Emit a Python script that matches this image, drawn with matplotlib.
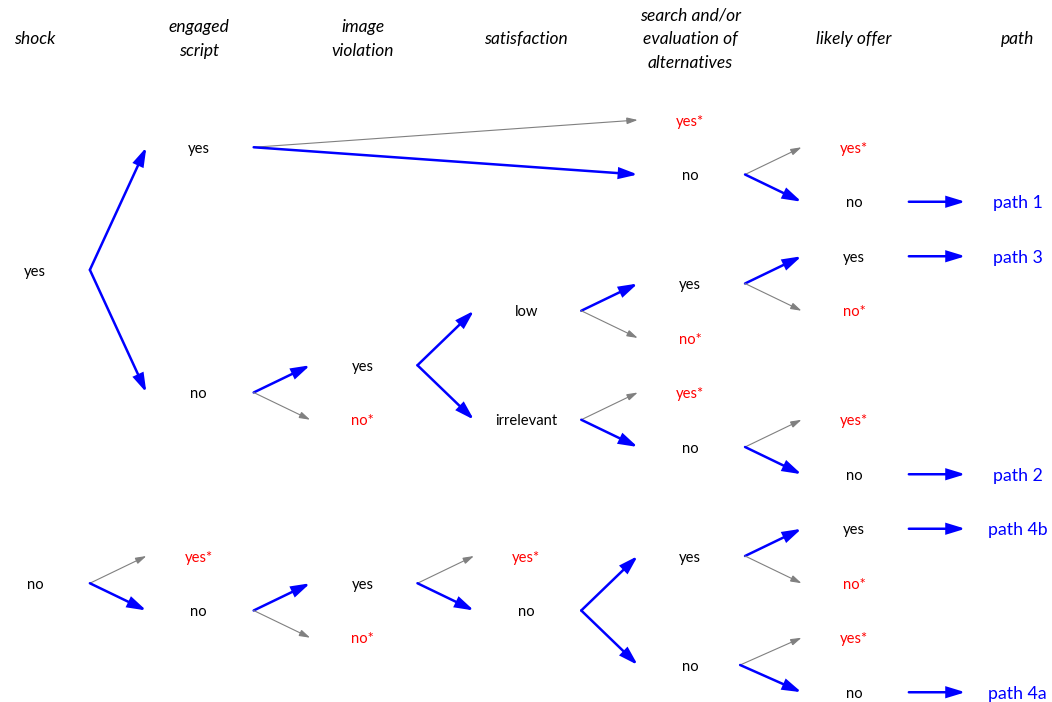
import matplotlib.pyplot as plt
from matplotlib.patches import FancyArrowPatch

# column headers (column index, text)
header_cols = [0, 1, 2, 3, 4, 5, 6]
header_texts = ["shock", "engaged\nscript", "image\nviolation", "satisfaction",
                "search and/or\nevaluation of\nalternatives", "likely offer", "path"]

# tree nodes: id -> (column, row, label, rejected?)
node_ids = ["A", "B",
            "C", "D", "E", "F",
            "G", "H", "I", "J",
            "K", "L", "M", "N",
            "O", "P", "Q", "R", "S", "T", "U", "V",
            "W", "X", "Y", "Z", "AA", "AB", "AC", "AD", "AE", "AF",
            "P1", "P3", "P2", "P4b", "P4a"]
node_cols = [0, 0,
             1, 1, 1, 1,
             2, 2, 2, 2,
             3, 3, 3, 3,
             4, 4, 4, 4, 4, 4, 4, 4,
             5, 5, 5, 5, 5, 5, 5, 5, 5, 5,
             6, 6, 6, 6, 6]
node_rows = [5.5, 17,
             1, 10, 16, 18,
             9, 11, 17, 19,
             7, 11, 16, 18,
             0, 2, 6, 8, 10, 12, 16, 20,
             1, 3, 5, 7, 11, 13, 15, 17, 19, 21,
             3, 5, 13, 15, 21]
node_labels = ["yes", "no",
               "yes", "no", "yes*", "no",
               "yes", "no*", "yes", "no*",
               "low", "irrelevant", "yes*", "no",
               "yes*", "no", "yes", "no*", "yes*", "no", "yes", "no",
               "yes*", "no", "yes", "no*", "yes*", "no", "yes", "no*", "yes*", "no",
               "path 1", "path 3", "path 2", "path 4b", "path 4a"]

# edges: (from, to, followed path?)
edges = [("A", "C", True), ("A", "D", True), ("B", "E", False), ("B", "F", True),
         ("C", "O", False), ("C", "P", True), ("D", "G", True), ("D", "H", False),
         ("F", "I", True), ("F", "J", False),
         ("G", "K", True), ("G", "L", True), ("I", "M", False), ("I", "N", True),
         ("K", "Q", True), ("K", "R", False), ("L", "S", False), ("L", "T", True),
         ("N", "U", True), ("N", "V", True),
         ("P", "W", False), ("P", "X", True), ("Q", "Y", True), ("Q", "Z", False),
         ("T", "AA", False), ("T", "AB", True), ("U", "AC", True), ("U", "AD", False),
         ("V", "AE", False), ("V", "AF", True),
         ("X", "P1", True), ("Y", "P3", True), ("AB", "P2", True),
         ("AC", "P4b", True), ("AF", "P4a", True)]

FONT = "Lato"
BLUE = "#0000ff"
RED = "#ff0000"
GREY = "#808080"
GAP_OUT = 0.335  # gap between label centre and arrow tail, in columns
GAP_IN = 0.32    # gap between arrow tip and label centre
TEXT_DROP = 0.06  # labels sit a touch below the arrow ends

fig = plt.figure(figsize=(10.52, 7.02), dpi=100)
ax = fig.add_axes([0, 0, 1, 1])
ax.set_xlim(-0.2137, 6.209)
ax.set_ylim(21.358, -4.404)
ax.axis("off")

for c, t in zip(header_cols, header_texts):
    ax.text(c, -2.97, t, ha="center", va="center", fontsize=12.5,
            style="italic", family=FONT, linespacing=1.6)

pos = {}
for nid, c, r, lab in zip(node_ids, node_cols, node_rows, node_labels):
    pos[nid] = (c, r)
    if lab.startswith("path"):
        ax.text(c, r + TEXT_DROP, lab, ha="center", va="center", fontsize=12.8,
                color=BLUE, family=FONT)
    else:
        color = RED if lab.endswith("*") else "black"
        ax.text(c, r + TEXT_DROP, lab, ha="center", va="center", fontsize=10.6,
                color=color, family=FONT)

for src, dst, chosen in edges:
    c0, r0 = pos[src]
    c1, r1 = pos[dst]
    # the last fork in the reference starts a little further left
    gap_out = GAP_OUT - 0.03 if src == "V" else GAP_OUT
    if chosen:
        style = "-|>,head_length=10.5,head_width=3.2"
        color, lw = BLUE, 1.8
    else:
        style = "-|>,head_length=6.5,head_width=2.0"
        color, lw = GREY, 0.8
    arr = FancyArrowPatch((c0 + gap_out, r0), (c1 - GAP_IN, r1), arrowstyle=style,
                          mutation_scale=1, color=color, lw=lw,
                          shrinkA=0, shrinkB=0, joinstyle="miter")
    ax.add_patch(arr)

fig.savefig("out.png", dpi=100)
